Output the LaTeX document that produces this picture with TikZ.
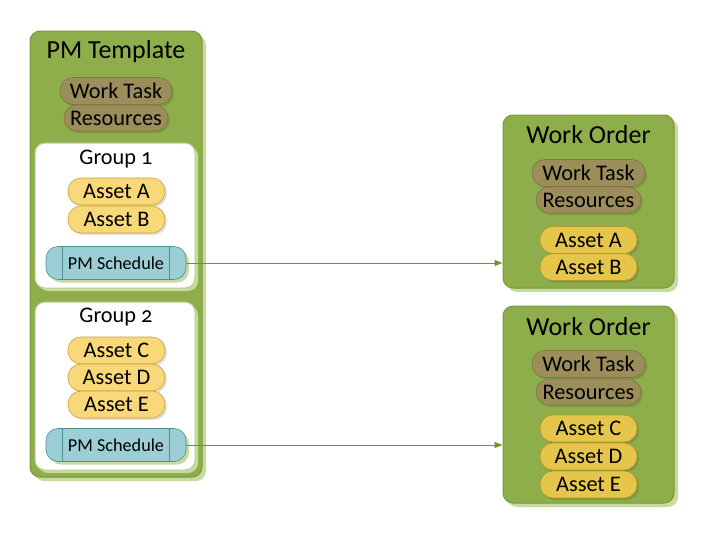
\documentclass[tikz,border=0pt]{standalone}
\usepackage{fontspec}
\setmainfont[Numbers=OldStyle]{Carlito}
\usetikzlibrary{arrows.meta}
\usetikzlibrary{positioning}
\usetikzlibrary{shadows}
\definecolor{boxgreen}{HTML}{8EAE4B}
\definecolor{boxedge}{HTML}{77993A}
\definecolor{shade}{HTML}{C8DAA0}
\definecolor{taskfill}{HTML}{9B8E5A}
\definecolor{taskedge}{HTML}{837645}
\definecolor{assetfill}{HTML}{F8D878}
\definecolor{assetedge}{HTML}{C8A23A}
\definecolor{orderfill}{HTML}{E6C54B}
\definecolor{orderedge}{HTML}{B3982B}
\definecolor{schedfill}{HTML}{9CCFD5}
\definecolor{schededge}{HTML}{4F8F98}
\definecolor{linkgreen}{HTML}{6A9A1F}
\tikzset{container/.style = {draw=boxedge, fill=boxgreen, line width=1pt, rounded corners=10, drop shadow={shadow xshift=4pt, shadow yshift=-4pt, fill=shade, opacity=1}}}
\tikzset{groupbox/.style = {draw=shade!80!boxgreen, fill=white, line width=1pt, rounded corners=10, drop shadow={shadow xshift=3pt, shadow yshift=-3pt, fill=shade, opacity=1}}}
\tikzset{pill/.style = {draw, line width=0.6pt, rounded corners=13, minimum height=27, inner sep=0, font=\fontsize{22.3}{22}\selectfont, drop shadow={shadow xshift=2pt, shadow yshift=-2pt, fill=black, opacity=0.12}}}
\tikzset{task/.style = {pill, fill=taskfill, draw=taskedge}}
\tikzset{asset/.style = {pill, fill=assetfill, draw=assetedge, minimum width=97}}
\tikzset{orderasset/.style = {pill, fill=orderfill, draw=orderedge, minimum width=97}}
\tikzset{sched/.style = {draw=schededge, fill=schedfill, line width=0.6pt, rounded corners=12, minimum width=140, minimum height=33, inner sep=0, font=\fontsize{18.2}{18}\selectfont, drop shadow={shadow xshift=3pt, shadow yshift=-3pt, fill=shade, opacity=1}}}
\tikzset{title/.style = {font=\fontsize{26}{26}\selectfont, inner sep=0}}
\tikzset{grouptitle/.style = {font=\fontsize{22.3}{22}\selectfont, inner sep=0}}
\tikzset{link/.style = {draw=linkgreen, line width=0.9pt, -{Triangle[length=8pt, width=6pt]}}}

\begin{document}
\begin{tikzpicture}[x=1pt, y=-1pt]
        \useasboundingbox (0,0) rectangle (708,539);
        % PM template side
        \node[container, minimum width=172, minimum height=446] (tmpl) at (116,254) {};
        \node[title] (tmpltitle) at (116,52) {PM Template};
        \node[task, minimum width=112] (tmpltask) at (116,91) {Work Task};
        \node[task, minimum width=104, minimum height=26] (tmplres) at (116,118) {Resources};
        \node[groupbox, minimum width=160, minimum height=145] (grpA) at (115,215.5) {};
        \node[grouptitle] (grpAtitle) at (116,159) {Group 1};
        \node[asset] (assetA) at (116.5,191.5) {Asset A};
        \node[asset] (assetB) at (116.5,219.5) {Asset B};
        \node[sched] (schedA) at (116,263) {PM Schedule};
        \draw[schededge, line width=0.6pt] ([xshift=17pt]schedA.north west) -- ([xshift=17pt]schedA.south west);
        \draw[schededge, line width=0.6pt] ([xshift=-17pt]schedA.north east) -- ([xshift=-17pt]schedA.south east);
        \node[groupbox, minimum width=160, minimum height=168] (grpB) at (115,386) {};
        \node[grouptitle] (grpBtitle) at (116,317) {Group 2};
        \node[asset] (assetC) at (116.5,350.5) {Asset C};
        \node[asset] (assetD) at (116.5,377.5) {Asset D};
        \node[asset] (assetE) at (116.5,404.5) {Asset E};
        \node[sched] (schedB) at (116,445) {PM Schedule};
        \draw[schededge, line width=0.6pt] ([xshift=17pt]schedB.north west) -- ([xshift=17pt]schedB.south west);
        \draw[schededge, line width=0.6pt] ([xshift=-17pt]schedB.north east) -- ([xshift=-17pt]schedB.south east);
        % work orders
        \node[container, minimum width=171, minimum height=173] (orderA) at (588.5,201.5) {};
        \node[title] (orderAtitle) at (588.5,135) {Work Order};
        \node[task, minimum width=113] (orderAtask) at (588.5,173) {Work Task};
        \node[task, minimum width=105, minimum height=26] (orderAres) at (588.5,200) {Resources};
        \node[orderasset] (orderassetA) at (588.5,240) {Asset A};
        \node[orderasset] (orderassetB) at (588.5,267) {Asset B};
        \node[container, minimum width=171, minimum height=197] (orderB) at (588.5,404.5) {};
        \node[title] (orderBtitle) at (588.5,327) {Work Order};
        \node[task, minimum width=113] (orderBtask) at (588.5,364) {Work Task};
        \node[task, minimum width=105, minimum height=26] (orderBres) at (588.5,392) {Resources};
        \node[orderasset] (orderassetC) at (588.5,428.5) {Asset C};
        \node[orderasset] (orderassetD) at (588.5,456.5) {Asset D};
        \node[orderasset] (orderassetE) at (588.5,484.5) {Asset E};
        % links
        \draw[link] (schedA.east) -- (schedA.east -| orderA.west);
        \draw[link] (schedB.east) -- (schedB.east -| orderB.west);
    \end{tikzpicture}
\end{document}
